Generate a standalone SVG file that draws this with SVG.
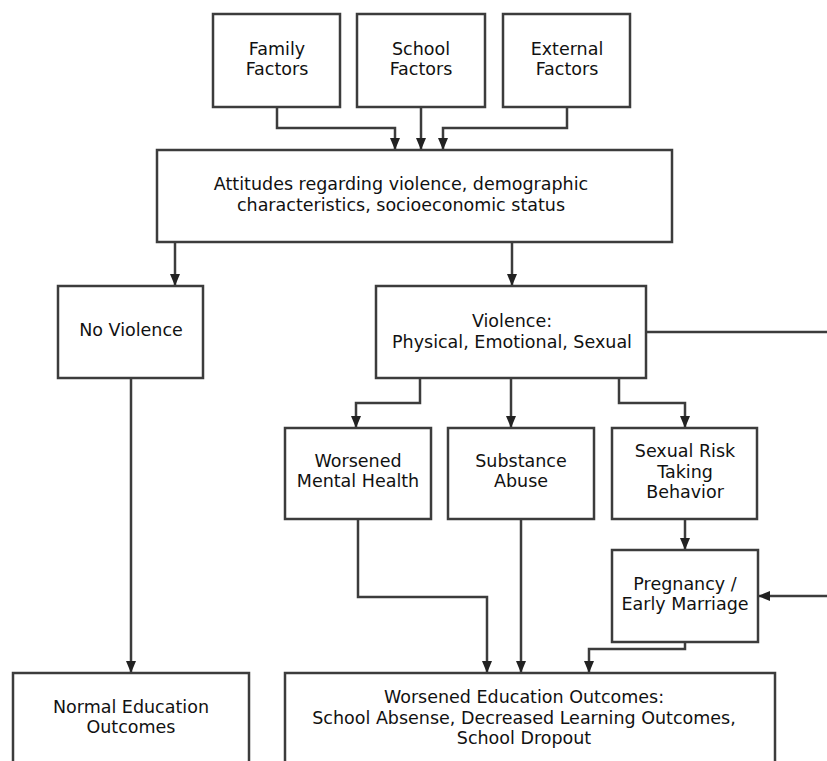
<svg xmlns="http://www.w3.org/2000/svg" width="827" height="761" viewBox="0 0 827 761">
<style>
.box{fill:#fff;stroke:#3c3c3c;stroke-width:2.5}
.ln{fill:none;stroke:#3c3c3c;stroke-width:2.5}
.t{font-family:"DejaVu Sans",sans-serif;font-size:17.5px;fill:#111;text-anchor:middle}
</style>
<defs>
<marker id="ah" markerUnits="userSpaceOnUse" markerWidth="12" markerHeight="10" refX="12" refY="5" orient="auto">
<path d="M0,0 L12,5 L0,10 z" fill="#222"/>
</marker>
</defs>
<rect width="827" height="761" fill="#fff"/>
<g id="connectors">
<path class="ln" d="M277 107 V128 H395 V150" marker-end="url(#ah)"/>
<path class="ln" d="M421 107 V150" marker-end="url(#ah)"/>
<path class="ln" d="M567 107 V128 H443 V150" marker-end="url(#ah)"/>
<path class="ln" d="M175 242 V286" marker-end="url(#ah)"/>
<path class="ln" d="M512 242 V286" marker-end="url(#ah)"/>
<path class="ln" d="M131 378 V673" marker-end="url(#ah)"/>
<path class="ln" d="M420 378 V403 H356 V428" marker-end="url(#ah)"/>
<path class="ln" d="M511 378 V428" marker-end="url(#ah)"/>
<path class="ln" d="M619 378 V403 H685 V428" marker-end="url(#ah)"/>
<path class="ln" d="M685 519 V550" marker-end="url(#ah)"/>
<path class="ln" d="M358 519 V597 H487 V673" marker-end="url(#ah)"/>
<path class="ln" d="M521 519 V673" marker-end="url(#ah)"/>
<path class="ln" d="M685 642 V649 H589 V673" marker-end="url(#ah)"/>
<path class="ln" d="M646 332 H829"/>
<path class="ln" d="M829 596 H758" marker-end="url(#ah)"/>
</g>
<g id="family"><rect class="box" x="213" y="14" width="127" height="93"/><text class="t" x="277" y="55">Family</text><text class="t" x="277" y="75">Factors</text></g>
<g id="school"><rect class="box" x="357" y="14" width="128" height="93"/><text class="t" x="421" y="55">School</text><text class="t" x="421" y="75">Factors</text></g>
<g id="external"><rect class="box" x="503" y="14" width="127" height="93"/><text class="t" x="567" y="55">External</text><text class="t" x="567" y="75">Factors</text></g>
<g id="attitudes"><rect class="box" x="157" y="150" width="515" height="92"/><text class="t" x="401" y="190">Attitudes regarding violence, demographic</text><text class="t" x="401" y="211">characteristics, socioeconomic status</text></g>
<g id="noviolence"><rect class="box" x="58" y="286" width="145" height="92"/><text class="t" x="131" y="336">No Violence</text></g>
<g id="violence"><rect class="box" x="376" y="286" width="270" height="92"/><text class="t" x="512" y="327">Violence:</text><text class="t" x="512" y="348">Physical, Emotional, Sexual</text></g>
<g id="mental"><rect class="box" x="285" y="428" width="146" height="91"/><text class="t" x="358" y="467">Worsened</text><text class="t" x="358" y="487">Mental Health</text></g>
<g id="substance"><rect class="box" x="448" y="428" width="146" height="91"/><text class="t" x="521" y="467">Substance</text><text class="t" x="521" y="487">Abuse</text></g>
<g id="sexualrisk"><rect class="box" x="612" y="428" width="145" height="91"/><text class="t" x="685" y="457">Sexual Risk</text><text class="t" x="685" y="478">Taking</text><text class="t" x="685" y="498">Behavior</text></g>
<g id="pregnancy"><rect class="box" x="612" y="550" width="146" height="92"/><text class="t" x="685" y="590">Pregnancy /</text><text class="t" x="685" y="610">Early Marriage</text></g>
<g id="normaledu"><rect class="box" x="13" y="673" width="236" height="100"/><text class="t" x="131" y="713">Normal Education</text><text class="t" x="131" y="733">Outcomes</text></g>
<g id="worsenededu"><rect class="box" x="285" y="673" width="490" height="100"/><text class="t" x="524" y="703">Worsened Education Outcomes:</text><text class="t" x="524" y="724">School Absense, Decreased Learning Outcomes,</text><text class="t" x="524" y="744">School Dropout</text></g>
</svg>
